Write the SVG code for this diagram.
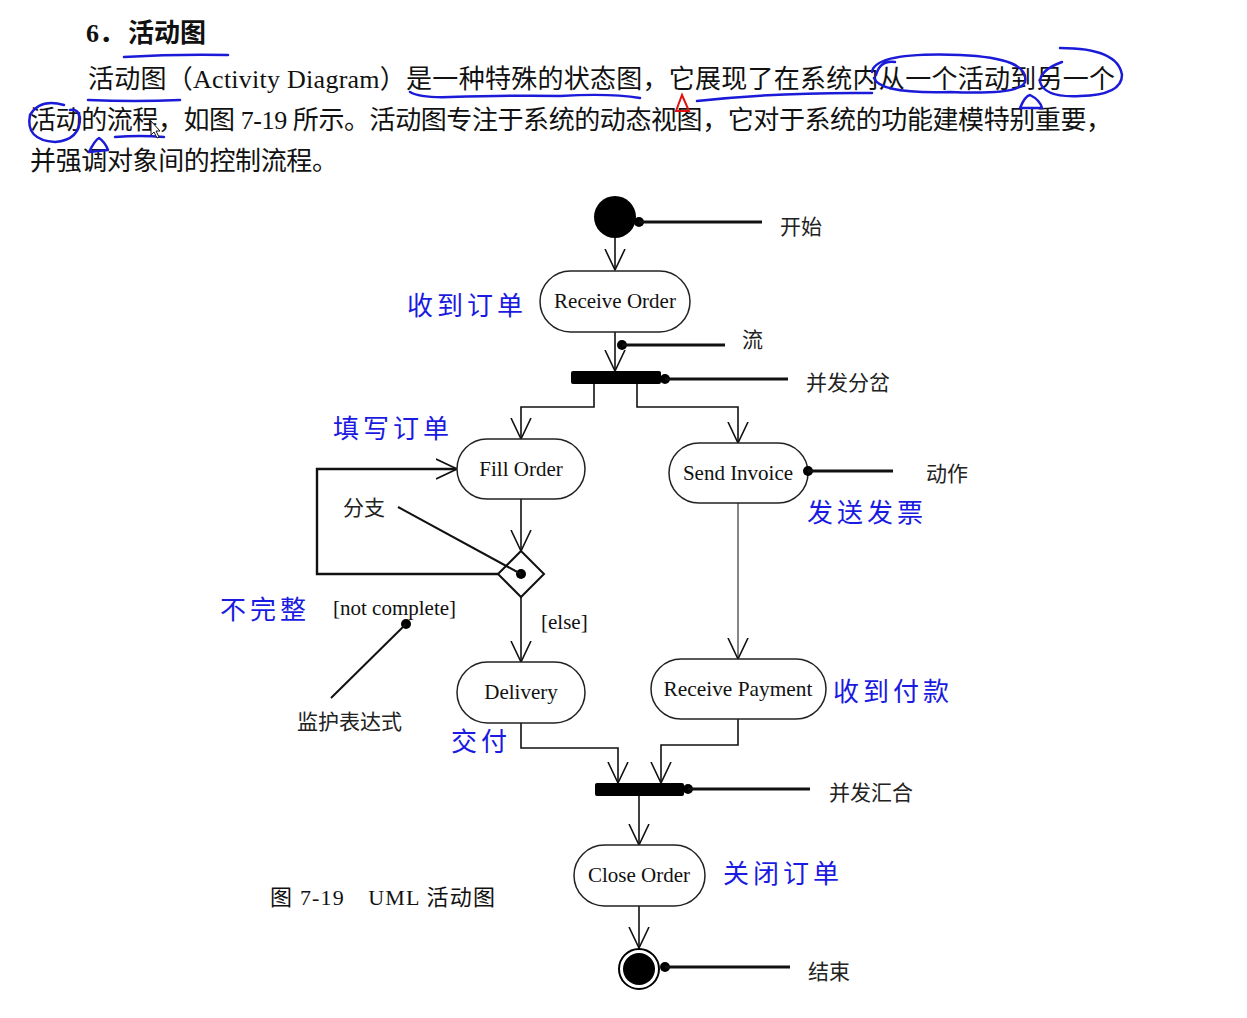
<svg xmlns="http://www.w3.org/2000/svg" width="1247" height="1018" viewBox="0 0 1247 1018">
<defs>
<marker id="arr" viewBox="0 0 22 22" refX="21" refY="11" markerWidth="22" markerHeight="22" markerUnits="userSpaceOnUse" orient="auto">
<path d="M0,1 L21,11 L0,21" fill="none" stroke="#111" stroke-width="1.6"/>
</marker>
</defs>
<style>
.body{font-family:"Liberation Serif","Noto Sans CJK SC",serif;font-size:26px;fill:#111}
.title{font-family:"Liberation Serif","Noto Sans CJK SC",serif;font-size:26px;font-weight:bold;fill:#111}
.act{fill:#fff;stroke:#222;stroke-width:1.5}
.lbl{font-family:"Liberation Serif","Noto Sans CJK SC",serif;font-size:21px;fill:#111;text-anchor:middle;dominant-baseline:central}
.note{font-family:"Noto Sans CJK SC","Liberation Sans",sans-serif;font-size:21px;fill:#222;dominant-baseline:central}
.guard{font-family:"Liberation Serif",serif;font-size:21px;fill:#111;dominant-baseline:central}
.blue{font-family:"Noto Sans CJK SC",sans-serif;font-size:26px;fill:#1a1ae0;letter-spacing:4px;dominant-baseline:central}
.ink{fill:none;stroke:#1a1ad8;stroke-width:2.5;stroke-linecap:round;stroke-linejoin:round}
.flow{fill:none;stroke:#111;stroke-width:1.6}
.lead{fill:none;stroke:#111;stroke-width:3}
.dot{fill:#000}
</style>
<rect width="1247" height="1018" fill="#fff"/>

<g id="heading">
<text class="title" x="86" y="42">6．<tspan x="128">活动图</tspan></text>
<text class="body" x="88" y="88" textLength="1027" lengthAdjust="spacing">活动图（Activity Diagram）是一种特殊的状态图，它展现了在系统内从一个活动到另一个</text>
<text class="body" x="30" y="129" textLength="1082" lengthAdjust="spacing">活动的流程，如图 7-19 所示。活动图专注于系统的动态视图，它对于系统的功能建模特别重要，</text>
<text class="body" x="30" y="170" textLength="308" lengthAdjust="spacing">并强调对象间的控制流程。</text>
</g>

<g id="handwriting">
<path class="ink" d="M124,57 Q175,54 228,55"/>
<path class="ink" d="M88,100 Q135,102 180,100"/>
<path class="ink" d="M410,92 Q420,98 450,97 Q520,95 560,96 Q610,93 640,98"/>
<path class="ink" d="M697,101 Q780,92 872,93"/>
<path class="ink" d="M876,75 Q880,60 895,62 M872,72 Q875,52 960,55 Q1030,58 1025,82 Q1020,95 950,92 Q880,94 874,78"/>
<path class="ink" d="M1062,62 Q1040,70 1040,82 Q1045,98 1080,96 Q1122,95 1122,75 Q1118,48 1060,48"/>
<path class="ink" d="M1020,108 Q1025,96 1030,95 Q1040,100 1042,108 Z"/>
<path d="M676,111 L682,95 L689,111 Z" fill="none" stroke="#e01010" stroke-width="2"/>
<path class="ink" d="M64,105 Q40,98 30,115 Q25,140 55,142 Q80,140 80,118 Q78,108 70,110"/>
<path class="ink" d="M89,152 Q95,140 99,138 Q105,142 108,150 Z"/>
<path class="ink" d="M115,137 Q140,135 164,137"/>
<path d="M151,121 L151,135 L154,132 L157,138 L159,137 L156,131 L160,131 Z" fill="#fff" stroke="#111" stroke-width="1"/>
</g>

<g id="connectors">
<line class="flow" x1="615" y1="238" x2="615" y2="270" marker-end="url(#arr)"/>
<line class="flow" x1="615" y1="332" x2="615" y2="371" marker-end="url(#arr)"/>
<polyline class="flow" points="594,384 594,407 521,407 521,439" marker-end="url(#arr)"/>
<polyline class="flow" points="637,384 637,407 738,407 738,443" marker-end="url(#arr)"/>
<line class="flow" x1="521" y1="499" x2="521" y2="551" marker-end="url(#arr)"/>
<polyline points="498,574 317,574 317,469 457,469" fill="none" stroke="#111" stroke-width="2.4" marker-end="url(#arr)"/>
<line class="flow" x1="521" y1="597" x2="521" y2="662" marker-end="url(#arr)"/>
<line x1="738" y1="503" x2="738" y2="659" fill="none" stroke="#444" stroke-width="1.3" marker-end="url(#arr)"/>
<polyline class="flow" points="521,723 521,748 618,748 618,783" marker-end="url(#arr)"/>
<polyline class="flow" points="738,719 738,745 661,745 661,783" marker-end="url(#arr)"/>
<line class="flow" x1="639" y1="796" x2="639" y2="845" marker-end="url(#arr)"/>
<line class="flow" x1="639" y1="906" x2="639" y2="948" marker-end="url(#arr)"/>
</g>

<g id="start">
<circle cx="615" cy="217" r="21" fill="#000"/>
</g>
<g id="receive-order">
<rect class="act" x="540" y="271" width="150" height="61" rx="30.5"/>
<text class="lbl" x="615" y="301">Receive Order</text>
</g>
<g id="fork">
<rect x="571" y="371" width="90" height="13" rx="2" fill="#000"/>
</g>
<g id="fill-order">
<rect class="act" x="457" y="439" width="128" height="60" rx="30"/>
<text class="lbl" x="521" y="469">Fill Order</text>
</g>
<g id="send-invoice">
<rect class="act" x="669" y="443" width="139" height="60" rx="30"/>
<text class="lbl" x="738" y="473">Send Invoice</text>
</g>
<g id="branch">
<path d="M521,551 L544,574 L521,597 L498,574 Z" fill="#fff" stroke="#111" stroke-width="2"/>
</g>
<g id="delivery">
<rect class="act" x="457" y="662" width="128" height="61" rx="30.5"/>
<text class="lbl" x="521" y="692">Delivery</text>
</g>
<g id="receive-payment">
<rect class="act" x="651" y="659" width="175" height="60" rx="30"/>
<text class="lbl" x="738" y="689" textLength="149" lengthAdjust="spacingAndGlyphs">Receive Payment</text>
</g>
<g id="join">
<rect x="595" y="783" width="89" height="13" rx="2" fill="#000"/>
</g>
<g id="close-order">
<rect class="act" x="574" y="845" width="131" height="61" rx="30.5"/>
<text class="lbl" x="639" y="875">Close Order</text>
</g>
<g id="end">
<circle cx="639" cy="969" r="20" fill="#fff" stroke="#000" stroke-width="2"/>
<circle cx="639" cy="969" r="16" fill="#000"/>
</g>

<g id="callouts">
<circle class="dot" cx="639" cy="222" r="5"/><line class="lead" x1="639" y1="222" x2="762" y2="222"/>
<text class="note" x="780" y="225">开始</text>
<circle class="dot" cx="622" cy="345" r="5"/><line class="lead" x1="622" y1="345" x2="725" y2="345"/>
<text class="note" x="742" y="338">流</text>
<circle class="dot" cx="665" cy="379" r="5"/><line class="lead" x1="665" y1="379" x2="788" y2="379"/>
<text class="note" x="806" y="381">并发分岔</text>
<circle class="dot" cx="808" cy="471" r="5"/><line class="lead" x1="808" y1="471" x2="893" y2="471"/>
<text class="note" x="926" y="472">动作</text>
<circle class="dot" cx="521" cy="574" r="5"/><line x1="398" y1="507" x2="521" y2="574" stroke="#111" stroke-width="2"/>
<text class="note" x="343" y="506">分支</text>
<text class="guard" x="333" y="608">[not complete]</text>
<text class="guard" x="541" y="622">[else]</text>
<circle class="dot" cx="406" cy="624" r="5"/><line x1="406" y1="624" x2="331" y2="698" stroke="#111" stroke-width="2"/>
<text class="note" x="297" y="720">监护表达式</text>
<circle class="dot" cx="688" cy="789" r="5"/><line class="lead" x1="688" y1="789" x2="810" y2="789"/>
<text class="note" x="829" y="791">并发汇合</text>
<circle class="dot" cx="665" cy="967" r="5"/><line class="lead" x1="665" y1="967" x2="790" y2="967"/>
<text class="note" x="808" y="970">结束</text>
</g>

<g id="blue-labels">
<text class="blue" x="407" y="303">收到订单</text>
<text class="blue" x="333" y="426">填写订单</text>
<text class="blue" x="807" y="510">发送发票</text>
<text class="blue" x="220" y="607">不完整</text>
<text class="blue" x="451" y="739">交付</text>
<text class="blue" x="833" y="689">收到付款</text>
<text class="blue" x="723" y="871">关闭订单</text>
</g>

<g id="caption">
<text class="body" x="270" y="905" style="font-size:22px" textLength="225" lengthAdjust="spacing">图 7-19　UML 活动图</text>
</g>
</svg>
